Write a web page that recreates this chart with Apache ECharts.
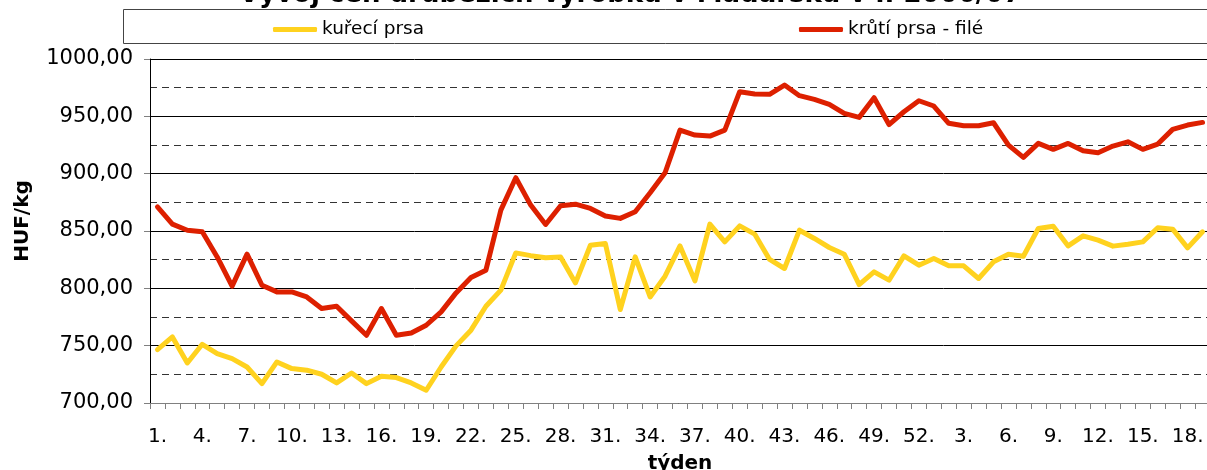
<!DOCTYPE html>
<html>
<head>
<meta charset="utf-8">
<script src="https://cdn.jsdelivr.net/npm/echarts@6/dist/echarts.min.js"></script>
<style>
    html, body { margin: 0; padding: 0; background: #fff; }
    #chart { width: 1207px; height: 470px; }
</style>
</head>
<body>
<div id="chart"></div>
<script>
// týdny 2006 (1.-52.) a 2007 (1.-19.)
var weeks = ['1.', '2.', '3.', '4.', '5.', '6.', '7.', '8.', '9.', '10.', '11.', '12.', '13.',
    '14.', '15.', '16.', '17.', '18.', '19.', '20.', '21.', '22.', '23.', '24.', '25.', '26.',
    '27.', '28.', '29.', '30.', '31.', '32.', '33.', '34.', '35.', '36.', '37.', '38.', '39.',
    '40.', '41.', '42.', '43.', '44.', '45.', '46.', '47.', '48.', '49.', '50.', '51.', '52.',
    '1.', '2.', '3.', '4.', '5.', '6.', '7.', '8.', '9.', '10.', '11.', '12.', '13.', '14.',
    '15.', '16.', '17.', '18.', '19.']

var kureciPrsa = [746.6, 757.6, 734.9, 751.2, 743.1, 738.7, 731.4, 716.9, 735.8, 730.0,
    728.6, 725.1, 717.5, 726.2, 716.9, 723.3, 722.2, 717.5, 711.1, 731.4,
    749.8, 763.5, 784.4, 798.4, 830.9, 828.5, 826.6, 827.4, 804.7, 837.6,
    839.1, 781.5, 827.4, 792.5, 810.6, 837.0, 806.5, 856.0, 840.5, 854.5,
    847.3, 825.2, 817.3, 850.7, 843.5, 835.6, 829.8, 803.3, 814.4, 807.1,
    828.3, 820.2, 826.0, 819.6, 819.6, 808.6, 823.1, 829.8, 828.0, 852.2,
    854.2, 837.0, 845.8, 842.0, 836.8, 838.5, 840.5, 852.8, 851.6, 835.3,
    849.3]

var krutiPrsa = [871.0, 856.0, 850.7, 849.3, 827.4, 801.9, 829.8, 802.7, 796.9, 796.9,
    792.5, 782.4, 784.4, 771.6, 759.1, 782.4, 759.1, 761.1, 767.8, 779.5,
    796.0, 809.4, 815.8, 868.2, 896.5, 872.6, 855.7, 872.0, 873.4, 869.7,
    863.0, 861.0, 866.8, 883.3, 900.8, 938.0, 933.7, 932.8, 938.0, 971.5,
    969.5, 969.2, 977.3, 968.0, 964.8, 960.5, 952.6, 949.1, 966.2, 942.8,
    954.0, 963.6, 959.0, 943.9, 941.8, 941.8, 944.4, 924.9, 914.2, 926.4,
    921.2, 926.4, 920.0, 918.2, 924.1, 927.8, 921.2, 925.8, 938.6, 942.4,
    944.7]

var seriesNames = ['kuřecí prsa', 'krůtí prsa - filé']
var colors = ['#FFD21F', '#DD2000']
var font = 'DejaVu Sans'

var myChart = echarts.init(document.getElementById('chart'))

var option = {
    animation: false,
    textStyle: { fontFamily: font },
    title: {
        text: 'Vývoj cen drůbežích výrobků v Maďarsku v r. 2006/07',
        left: 234,
        top: -23,
        textStyle: {
            fontFamily: font,
            fontSize: 26,
            fontWeight: 'bold',
            color: '#000'
        }
    },
    graphic: [{
        type: 'rect',
        shape: { x: 123.5, y: 9.5, width: 1100, height: 34 },
        style: { fill: 'none', stroke: '#444', lineWidth: 1 },
        silent: true
    }],
    legend: {
        left: 268,
        top: 15,
        itemWidth: 44,
        itemHeight: 5,
        itemGap: 375,
        icon: 'roundRect',
        data: seriesNames,
        textStyle: {
            fontFamily: font,
            fontSize: 18.5,
            color: '#000'
        }
    },
    grid: {
        left: 150,
        top: 59,
        width: 1060,
        height: 344,
        outerBoundsMode: 'none'
    },
    xAxis: {
        type: 'category',
        data: weeks,
        boundaryGap: true,
        name: 'týden',
        nameLocation: 'middle',
        nameGap: 51,
        nameTextStyle: {
            fontFamily: font,
            fontSize: 20,
            fontWeight: 'bold',
            color: '#000'
        },
        axisLine: { lineStyle: { color: '#808080', width: 1 } },
        axisTick: {
            show: true,
            interval: 0,
            length: 6,
            lineStyle: { color: '#808080' }
        },
        axisLabel: {
            interval: 2,
            margin: 24,
            fontFamily: font,
            fontSize: 20,
            color: '#000'
        },
        splitLine: { show: false }
    },
    yAxis: {
        type: 'value',
        min: 700,
        max: 1000,
        interval: 50,
        name: 'HUF/kg',
        nameLocation: 'middle',
        nameRotate: 90,
        nameGap: 117,
        nameTextStyle: {
            fontFamily: font,
            fontSize: 20,
            fontWeight: 'bold',
            color: '#000',
            padding: [0, 0, 0, 20]
        },
        axisLine: { show: true, lineStyle: { color: '#000', width: 1 } },
        axisTick: { show: true, length: 6, lineStyle: { color: '#808080' } },
        axisLabel: {
            margin: 17,
            fontFamily: font,
            fontSize: 21,
            color: '#000',
            formatter: function(v) {
                return v.toFixed(2).replace('.', ',')
            }
        },
        splitLine: { show: true, lineStyle: { color: '#000', width: 1 } },
        minorTick: { show: false, splitNumber: 2 },
        minorSplitLine: {
            show: true,
            lineStyle: { color: '#333', width: 1, type: [7, 5] }
        }
    },
    series: [
        {
            name: seriesNames[0],
            type: 'line',
            data: kureciPrsa,
            showSymbol: false,
            symbol: 'none',
            itemStyle: { color: colors[0] },
            lineStyle: { color: colors[0], width: 5, join: 'round', cap: 'round' }
        },
        {
            name: seriesNames[1],
            type: 'line',
            data: krutiPrsa,
            showSymbol: false,
            symbol: 'none',
            itemStyle: { color: colors[1] },
            lineStyle: { color: colors[1], width: 5, join: 'round', cap: 'round' }
        }
    ]
}

myChart.setOption(option)
window.addEventListener('resize', function() {
    myChart.resize()
})
</script>
</body>
</html>
